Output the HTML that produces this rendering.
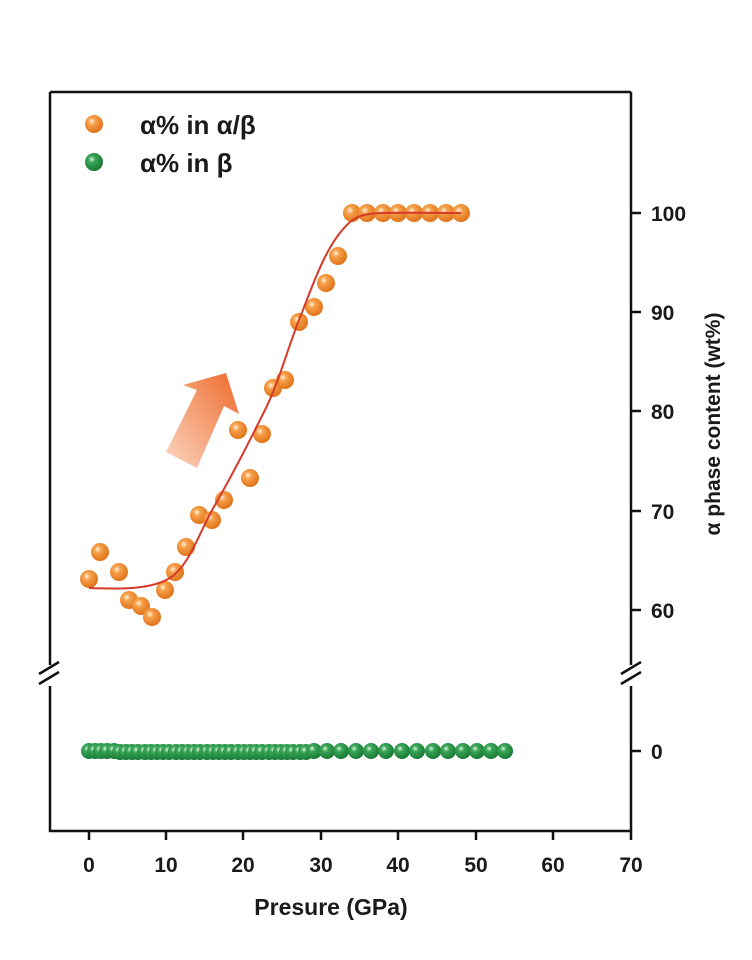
<!DOCTYPE html>
<html><head><meta charset="utf-8"><style>
html,body{margin:0;padding:0;background:#fff;}
svg text{font-family:"Liberation Sans",sans-serif;font-weight:bold;fill:#1a1a1a;}
</style></head><body>
<svg width="752" height="955" viewBox="0 0 752 955" xmlns="http://www.w3.org/2000/svg">
<defs>
<radialGradient id="og" cx="0.38" cy="0.35" r="0.65">
<stop offset="0" stop-color="#fff3e0"/><stop offset="0.3" stop-color="#f6a04a"/><stop offset="1" stop-color="#e0741a"/></radialGradient>
<radialGradient id="gg" cx="0.38" cy="0.35" r="0.65">
<stop offset="0" stop-color="#d8f5dc"/><stop offset="0.3" stop-color="#3aa556"/><stop offset="1" stop-color="#177a35"/></radialGradient>
<linearGradient id="ar" x1="0" y1="1" x2="1" y2="0">
<stop offset="0" stop-color="#fbd6c2"/><stop offset="1" stop-color="#ee6a2a"/></linearGradient>
</defs>
<g stroke="#111" stroke-width="2.5" fill="none">
<path d="M50,92 H631"/>
<path d="M50,92 V665 M50,686 V831 H631 V686 M631,665 V92"/>
<path d="M39,674 L59,662 M39,684 L59,672"/>
<path d="M621,674 L641,662 M621,684 L641,672"/>
</g>
<g stroke="#111" stroke-width="2.5">
<path d="M89,831v9 M166,831v9 M243,831v9 M321,831v9 M398,831v9 M476,831v9 M553,831v9 M631,831v9"/>
<path d="M631,213h10 M631,312h10 M631,411h10 M631,511h10 M631,610h10 M631,751h10"/>
</g>
<g font-size="21" text-anchor="middle">
<text x="89" y="872">0</text><text x="166" y="872">10</text><text x="243" y="872">20</text><text x="321" y="872">30</text><text x="398" y="872">40</text><text x="476" y="872">50</text><text x="553" y="872">60</text><text x="631" y="872">70</text>
</g>
<text x="331" y="915" font-size="23" text-anchor="middle">Presure (GPa)</text>
<g font-size="21">
<text x="651" y="221">100</text><text x="651" y="320">90</text><text x="651" y="419">80</text><text x="651" y="519">70</text><text x="651" y="618">60</text><text x="651" y="759">0</text>
</g>
<text transform="translate(720,424) rotate(-90)" font-size="21" text-anchor="middle">α phase content (wt%)</text>
<circle cx="94" cy="124" r="9" fill="url(#og)"/>
<circle cx="94" cy="162" r="9" fill="url(#gg)"/>
<text x="140" y="134" font-size="26">α% in α/β</text>
<text x="140" y="172" font-size="26">α% in β</text>
<polygon points="226,373 183,385 197,390 166,452 197,468 224,406 239,414" fill="url(#ar)"/>
<g fill="url(#gg)">
<circle cx="89" cy="751" r="8"/><circle cx="95" cy="751" r="8"/><circle cx="101" cy="751" r="8"/><circle cx="107" cy="751" r="8"/><circle cx="114" cy="751" r="8"/><circle cx="120" cy="752" r="8"/><circle cx="126" cy="752" r="8"/><circle cx="132" cy="752" r="8"/><circle cx="138" cy="752" r="8"/><circle cx="145" cy="752" r="8"/><circle cx="151" cy="752" r="8"/><circle cx="157" cy="752" r="8"/><circle cx="163" cy="752" r="8"/><circle cx="169" cy="752" r="8"/><circle cx="176" cy="752" r="8"/><circle cx="182" cy="752" r="8"/><circle cx="188" cy="752" r="8"/><circle cx="194" cy="752" r="8"/><circle cx="200" cy="752" r="8"/><circle cx="207" cy="752" r="8"/><circle cx="213" cy="752" r="8"/><circle cx="219" cy="752" r="8"/><circle cx="225" cy="752" r="8"/><circle cx="231" cy="752" r="8"/><circle cx="238" cy="752" r="8"/><circle cx="244" cy="752" r="8"/><circle cx="250" cy="752" r="8"/><circle cx="256" cy="752" r="8"/><circle cx="262" cy="752" r="8"/><circle cx="269" cy="752" r="8"/><circle cx="275" cy="752" r="8"/><circle cx="281" cy="752" r="8"/><circle cx="287" cy="752" r="8"/><circle cx="293" cy="752" r="8"/><circle cx="300" cy="752" r="8"/><circle cx="306" cy="752" r="8"/><circle cx="314" cy="751" r="8"/><circle cx="327" cy="751" r="8"/><circle cx="341" cy="751" r="8"/><circle cx="356" cy="751" r="8"/><circle cx="371" cy="751" r="8"/><circle cx="386" cy="751" r="8"/><circle cx="402" cy="751" r="8"/><circle cx="417" cy="751" r="8"/><circle cx="433" cy="751" r="8"/><circle cx="448" cy="751" r="8"/><circle cx="463" cy="751" r="8"/><circle cx="477" cy="751" r="8"/><circle cx="491" cy="751" r="8"/><circle cx="505" cy="751" r="8"/>
</g>
<g fill="url(#og)">
<circle cx="89" cy="579" r="9"/><circle cx="100" cy="552" r="9"/><circle cx="119" cy="572" r="9"/><circle cx="129" cy="600" r="9"/><circle cx="141" cy="606" r="9"/><circle cx="152" cy="617" r="9"/><circle cx="165" cy="590" r="9"/><circle cx="175" cy="572" r="9"/><circle cx="186" cy="547" r="9"/><circle cx="199" cy="515" r="9"/><circle cx="212" cy="520" r="9"/><circle cx="224" cy="500" r="9"/><circle cx="238" cy="430" r="9"/><circle cx="250" cy="478" r="9"/><circle cx="262" cy="434" r="9"/><circle cx="273" cy="388" r="9"/><circle cx="285" cy="380" r="9"/><circle cx="299" cy="322" r="9"/><circle cx="314" cy="307" r="9"/><circle cx="326" cy="283" r="9"/><circle cx="338" cy="256" r="9"/><circle cx="352" cy="213" r="9"/><circle cx="367" cy="213" r="9"/><circle cx="383" cy="213" r="9"/><circle cx="398" cy="213" r="9"/><circle cx="414" cy="213" r="9"/><circle cx="430" cy="213" r="9"/><circle cx="446" cy="213" r="9"/><circle cx="461" cy="213" r="9"/>
</g>
<path d="M89,588 C120,589 150,590 170,578 C190,565 200,530 215,505 C235,470 250,440 265,410 C280,380 290,340 303,310 C318,270 330,240 350,222 C365,210 380,213 461,213" fill="none" stroke="#d63a2a" stroke-width="2"/>
</svg>
</body></html>
